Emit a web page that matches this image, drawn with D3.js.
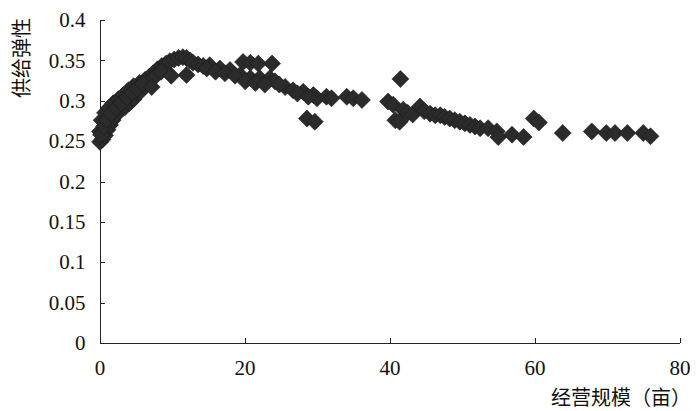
<!DOCTYPE html>
<html>
<head>
<meta charset="utf-8">
<script src="https://cdn.jsdelivr.net/npm/d3@7"></script>
<style>
  body { margin: 0; background: #fff; }
</style>
</head>
<body>
<svg></svg>
<script>
const width = 700;
const height = 411;

// DATA: operating scale (mu) and supply elasticity
const scaleMu = [
  // rising band, upper row
  0.05, 0.3, 0.76, 1.3, 1.9, 2.6, 3.3, 4.0, 4.7, 5.5, 6.3, 6.9, 7.4, 8.0, 8.6, 9.2, 9.7, 10.3, 10.9, 11.5, 12.0, 12.5, 12.9, 13.6, 14.3,
  // rising band, lower row
  0.07, 0.4, 0.76, 1.1, 1.45, 1.8, 2.1, 2.8, 3.5, 4.1, 4.7, 5.5, 6.3, 7.0, 7.8, 8.5,
  // rising band, middle row
  0.2, 0.6, 1.0, 1.6, 2.3, 3.0, 3.8, 4.5, 5.2, 6.0,
  // outliers below the peak
  7.2, 9.9, 12.0,
  // decline
  15.2, 16.6, 18.0, 19.4, 20.8, 22.1, 23.5, 24.2, 25.6, 26.7, 28.1, 29.5, 30.0, 31.3, 32.0, 34.1, 35.0, 36.2,
  14.8, 16.0, 17.3, 18.7, 20.1, 21.5, 22.8, 24.8, 27.3, 28.8,
  // upper cluster and lower pair
  19.8, 20.8, 21.9, 23.8, 28.6, 29.7,
  // 40 to 76
  41.5, 39.8, 40.5, 40.8, 41.4, 41.9, 42.5, 43.2, 44.2, 44.8, 45.6, 46.3, 47.0, 47.6, 48.3, 49.0, 49.7,
  50.4, 51.1, 51.8, 52.5, 53.6, 54.8, 55.0, 56.9, 58.5, 59.9, 60.6, 63.9, 67.9, 69.9, 71.1, 72.8, 75.0, 76.0
];
const elasticity = [
  0.262, 0.276, 0.285, 0.291, 0.297, 0.302, 0.307, 0.313, 0.318, 0.322, 0.326, 0.330, 0.334, 0.339, 0.343, 0.346, 0.349, 0.351, 0.353, 0.354, 0.353, 0.350, 0.347, 0.345, 0.343,
  0.249, 0.252, 0.257, 0.264, 0.270, 0.276, 0.281, 0.287, 0.292, 0.297, 0.302, 0.310, 0.318, 0.325, 0.331, 0.336,
  0.258, 0.268, 0.276, 0.284, 0.291, 0.297, 0.304, 0.310, 0.315, 0.321,
  0.317, 0.331, 0.332,
  0.344, 0.340, 0.338, 0.332, 0.328, 0.328, 0.328, 0.324, 0.317, 0.313, 0.311, 0.307, 0.303, 0.305, 0.303, 0.305, 0.303, 0.301,
  0.340, 0.336, 0.334, 0.331, 0.324, 0.322, 0.320, 0.320, 0.309, 0.305,
  0.348, 0.347, 0.346, 0.346, 0.278, 0.274,
  0.327, 0.299, 0.295, 0.276, 0.274, 0.289, 0.285, 0.283, 0.293, 0.287, 0.284, 0.282, 0.282, 0.280, 0.278, 0.276, 0.274,
  0.272, 0.270, 0.268, 0.266, 0.266, 0.262, 0.255, 0.258, 0.255, 0.278, 0.273, 0.260, 0.262, 0.260, 0.260, 0.260, 0.260, 0.256
];
const xTicks = [0, 20, 40, 60, 80];
const yTicks = [0, 0.05, 0.1, 0.15, 0.2, 0.25, 0.3, 0.35, 0.4];
const yTickLabels = ["0", "0.05", "0.1", "0.15", "0.2", "0.25", "0.3", "0.35", "0.4"];

const points = scaleMu.map((x, i) => ({ x: x, y: elasticity[i] }));

// CREATE SCALES
const xScale = d3.scaleLinear()
        .domain([0, 80])
        .range([99.5, 679.5])

const yScale = d3.scaleLinear()
        .domain([0, 0.4])
        .range([343, 20])

const svg = d3.select("svg")
  .attr("width", width)
  .attr("height", height)
  .style("background", "#fff")

// AXES (ticks point inward)
const xAxis = d3.axisBottom(xScale)
        .tickValues(xTicks)
        .tickSize(-5)
        .tickSizeOuter(0)
        .tickPadding(17)
const yAxis = d3.axisLeft(yScale)
        .tickValues(yTicks)
        .tickFormat((d, i) => yTickLabels[i])
        .tickSize(-5)
        .tickSizeOuter(0)
        .tickPadding(14)

svg.append("g")
    .attr("transform", `translate(0, ${yScale(0)})`)
  .call(xAxis)
svg.append("g")
    .attr("transform", `translate(${xScale(0)}, 0)`)
  .call(yAxis)

svg.selectAll(".domain, .tick line")
  .attr("stroke", "#222")
  .attr("shape-rendering", "crispEdges")
svg.selectAll(".tick text")
  .attr("fill", "#111")
  .style("font-family", "'Liberation Serif', 'Times New Roman', serif")
  .style("font-size", "21px")

// POINTS (square diamonds)
svg.append("g")
  .selectAll("path")
    .data(points)
    .enter()
    .append("path")
      .attr("transform", d => `translate(${xScale(d.x)}, ${yScale(d.y)})`)
      .attr("d", "M0,-8.5L8.5,0L0,8.5L-8.5,0Z")
      .attr("fill", "#2b2b2b")
      .attr("stroke", "#1a1a1a")
      .attr("stroke-width", 0.6)

// ADD LABELS
svg.append("text")
  .attr("x", 691)
  .attr("y", 405)
  .style("text-anchor", "end")
  .style("font-family", "'Noto Sans CJK SC', sans-serif")
  .style("font-size", "20px")
  .attr("fill", "#111")
  .text("经营规模（亩）")

svg.append("text")
  .attr("transform", "translate(20, 58) rotate(-90)")
  .style("text-anchor", "middle")
  .attr("dominant-baseline", "central")
  .style("font-family", "'Noto Sans CJK SC', sans-serif")
  .style("font-size", "20px")
  .attr("fill", "#111")
  .text("供给弹性")
</script>
</body>
</html>
